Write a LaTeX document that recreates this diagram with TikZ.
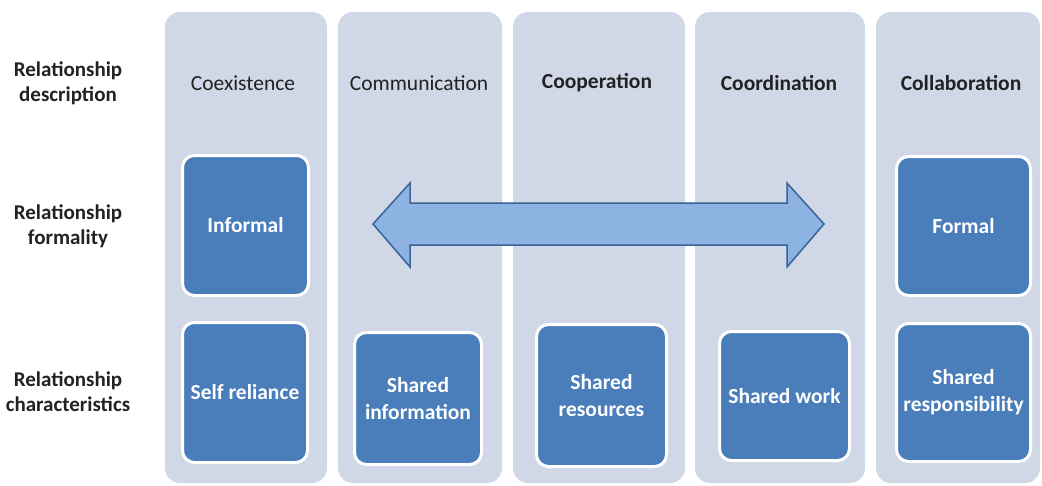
\documentclass[tikz,border=0pt]{standalone}
\usepackage{fontspec}
\setmainfont{Carlito}
\begin{document}
\definecolor{colfill}{HTML}{D0D8E8}
\definecolor{boxfill}{HTML}{4A7EBB}
\definecolor{arrowfill}{HTML}{8DB3E2}
\definecolor{arrowline}{HTML}{3A6396}
\definecolor{labeltext}{HTML}{222222}
\begin{tikzpicture}[x=1pt,y=-1pt,
  colbox/.style={rectangle,rounded corners=15pt,fill=colfill,draw=none,
    minimum height=471pt,inner sep=0pt},
  bluebox/.style={rectangle,rounded corners=12pt,fill=boxfill,draw=white,
    line width=3pt,inner sep=2pt,align=center,text=white,
    font=\fontsize{21.5}{27}\selectfont\bfseries},
  heading/.style={text=labeltext,font=\fontsize{21.5}{25}\selectfont},
  boldheading/.style={heading,font=\fontsize{21.5}{25}\selectfont\bfseries},
  rowlabel/.style={text=labeltext,align=center,
    font=\fontsize{21}{25}\selectfont\bfseries}]
\useasboundingbox (0,0) rectangle (1042,485);
\fill[white] (0,0) rectangle (1042,485);

% columns
\node[colbox,minimum width=162pt] (c1) at (246,247.5) {};
\node[colbox,minimum width=164pt] (c2) at (420,247.5) {};
\node[colbox,minimum width=172pt] (c3) at (599,247.5) {};
\node[colbox,minimum width=170pt] (c4) at (780,247.5) {};
\node[colbox,minimum width=164pt] (c5) at (958,247.5) {};

% row labels
\node[rowlabel] (ldesc) at (68,83) {Relationship\\description};
\node[rowlabel] (lform) at (68,226) {Relationship\\formality};
\node[rowlabel] (lchar) at (68,392) {Relationship\\characteristics};

% column headings
\node[heading] (h1) at (243,83) {Coexistence};
\node[heading] (h2) at (419,83) {Communication};
\node[boldheading] (h3) at (597,83) {Cooperation};
\node[boldheading] (h4) at (779,83) {Coordination};
\node[boldheading] (h5) at (961,83) {Collaboration};

% formality boxes
\node[bluebox,minimum width=126pt,minimum height=140pt] (informal) at (245.5,225.5) {Informal};
\node[bluebox,minimum width=134pt,minimum height=139pt] (formal) at (963.5,226) {Formal};

% characteristics boxes
\node[bluebox,minimum width=125pt,minimum height=140pt] (selfrel) at (245,392.5) {Self reliance};
\node[bluebox,minimum width=127pt,minimum height=132pt] (sharedinfo) at (418,398.5) {Shared\\information};
\node[bluebox,minimum width=130pt,minimum height=142pt] (sharedres) at (601.5,395.5) {Shared\\resources};
\node[bluebox,minimum width=130pt,minimum height=129pt] (sharedwork) at (784.5,396) {Shared work};
\node[bluebox,minimum width=134pt,minimum height=138pt] (sharedresp) at (963.5,392.5) {Shared\\responsibility};

% double-headed arrow across the middle columns
\draw[fill=arrowfill,draw=arrowline,line width=1.5pt,line join=miter]
  (373,224) -- (410,183) -- (410,203) -- (787,203) -- (787,183) -- (824,224)
  -- (787,267) -- (787,245) -- (410,245) -- (410,267) -- cycle;
\end{tikzpicture}
\end{document}
